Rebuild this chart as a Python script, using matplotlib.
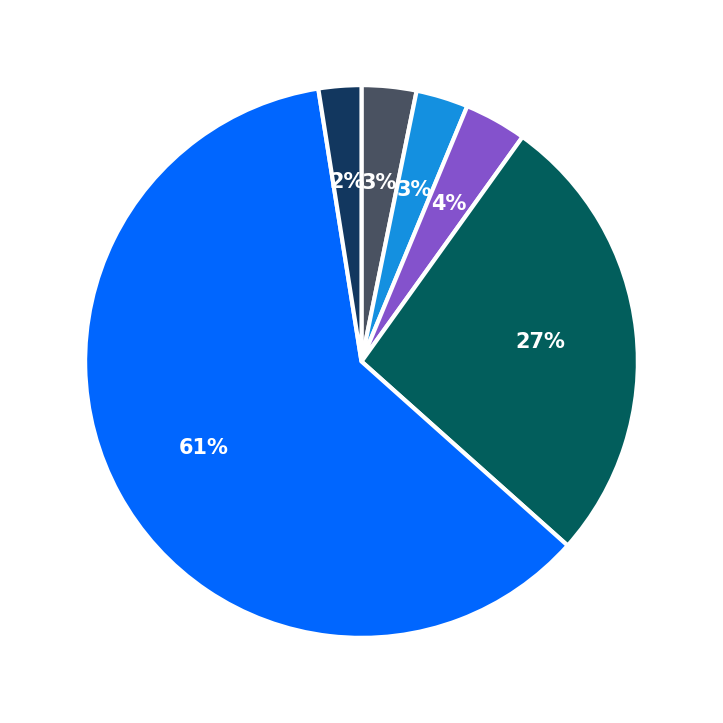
import matplotlib
matplotlib.use("Agg")
import matplotlib.pyplot as plt

labels = ["A", "B", "C", "D", "E", "F"]
values = [3.2, 3.05, 3.65, 26.7, 60.9, 2.5]
colors = ["#4a5261", "#1490e0", "#8452cc", "#025e5c", "#0066ff", "#12375f"]

fig = plt.figure(figsize=(7.23, 7.23), dpi=100)
ax = fig.add_axes([0, 0, 1, 1])
wedges, texts, autotexts = ax.pie(values, colors=colors, startangle=90, counterclock=False,
       autopct="%.0f%%", pctdistance=0.65,
       wedgeprops=dict(edgecolor="white", linewidth=3),
       textprops=dict(color="white", fontsize=15, fontweight="bold"))
ax.set_xlim(-1.308, 1.308)
ax.set_ylim(-1.308, 1.308)
ax.set_aspect("equal")
ax.axis("off")
fig.savefig("out.png", dpi=100)
